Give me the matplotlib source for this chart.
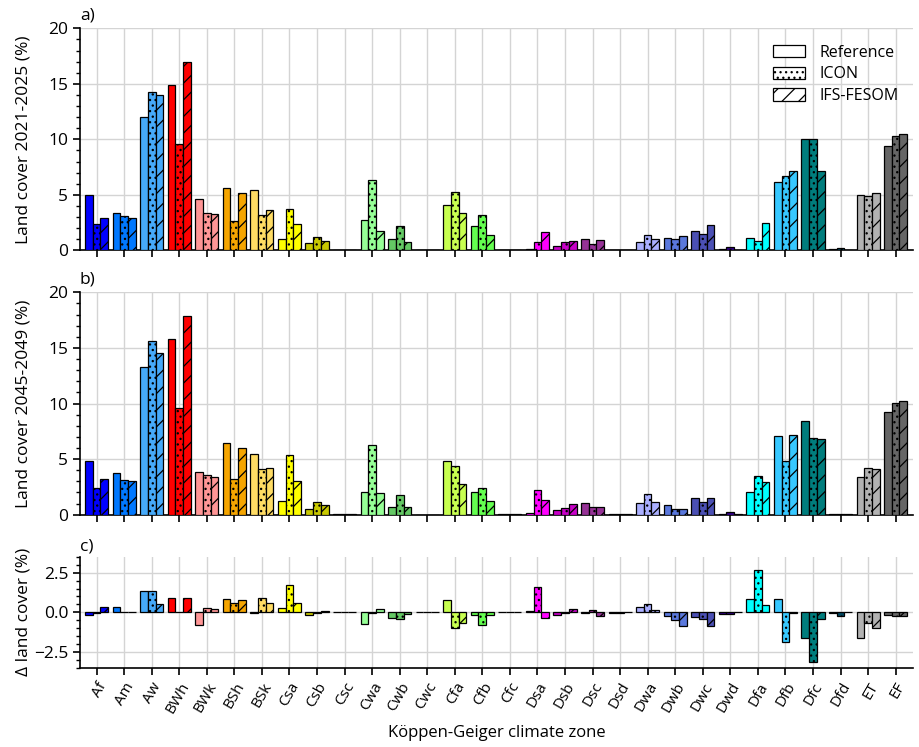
import matplotlib
matplotlib.use("Agg")
import matplotlib.pyplot as plt
import numpy as np
from matplotlib.ticker import MultipleLocator
from matplotlib.patches import Patch

plt.rcParams['font.family'] = ['Open Sans', 'DejaVu Sans']
plt.rcParams['hatch.linewidth'] = 0.9

zones = ["Af", "Am", "Aw", "BWh", "BWk", "BSh", "BSk", "Csa", "Csb", "Csc",
         "Cwa", "Cwb", "Cwc", "Cfa", "Cfb", "Cfc", "Dsa", "Dsb", "Dsc", "Dsd",
         "Dwa", "Dwb", "Dwc", "Dwd", "Dfa", "Dfb", "Dfc", "Dfd", "ET", "EF"]

zone_colors = ["#0000ff", "#0078ff", "#46aafa", "#ff0000", "#ff9696", "#f5a500",
               "#ffdc64", "#ffff00", "#c8c800", "#969600", "#96ff96", "#64c864",
               "#329632", "#c8ff50", "#64ff50", "#32c800", "#ff00ff", "#c800c8",
               "#963296", "#966496", "#aaafff", "#5a78dc", "#4b50b4", "#320087",
               "#00ffff", "#37c8ff", "#007d7d", "#00465f", "#b2b2b2", "#666666"]

# Panel a: land cover 2021-2025 (%)
ref_a = [5.0, 3.4, 12.0, 14.9, 4.6, 5.65, 5.4, 1.0, 0.63, 0.02,
         2.7, 1.02, 0.01, 4.05, 2.16, 0.05, 0.12, 0.36, 1.0, 0.03,
         0.72, 1.08, 1.74, 0.15, 1.14, 6.2, 10.0, 0.09, 4.95, 9.37]
icon_a = [2.4, 3.06, 14.3, 9.55, 3.33, 2.64, 3.18, 3.7, 1.17, 0.02,
          6.3, 2.16, 0.01, 5.29, 3.18, 0.08, 0.72, 0.72, 0.54, 0.03,
          1.35, 1.0, 1.5, 0.3, 0.84, 6.7, 10.0, 0.2, 4.86, 10.27]
ifs_a = [2.9, 2.9, 14.0, 17.0, 3.24, 5.14, 3.6, 2.34, 0.84, 0.02,
         1.77, 0.72, 0.01, 3.33, 1.35, 0.05, 1.62, 0.81, 0.9, 0.02,
         1.02, 1.29, 2.25, 0.02, 2.49, 7.18, 7.18, 0.02, 5.13, 10.45]

# Panel b: land cover 2045-2049 (%)
ref_b = [4.8, 3.72, 13.25, 15.8, 3.87, 6.48, 5.43, 1.26, 0.48, 0.02,
         2.0, 0.66, 0.01, 4.83, 2.0, 0.05, 0.18, 0.39, 1.02, 0.02,
         1.02, 0.84, 1.5, 0.05, 2.0, 7.05, 8.4, 0.02, 3.36, 9.2]
icon_b = [2.37, 3.09, 15.6, 9.63, 3.57, 3.2, 4.08, 5.37, 1.14, 0.02,
          6.27, 1.77, 0.01, 4.35, 2.37, 0.05, 2.25, 0.57, 0.72, 0.02,
          1.89, 0.48, 1.17, 0.2, 3.45, 4.8, 6.87, 0.02, 4.23, 10.04]
ifs_b = [3.18, 3.0, 14.5, 17.9, 3.36, 5.97, 4.17, 3.0, 0.87, 0.02,
         1.98, 0.66, 0.01, 2.73, 1.23, 0.05, 1.29, 0.96, 0.66, 0.02,
         1.11, 0.48, 1.47, 0.02, 2.9, 7.14, 6.78, 0.02, 4.14, 10.2]

# Panel c: change in land cover (%)
ref_c = [-0.17, 0.31, 1.34, 0.92, -0.78, 0.82, -0.03, 0.25, -0.19, 0.0,
         -0.73, -0.38, 0.0, 0.75, -0.19, 0.02, 0.06, -0.19, -0.03, -0.02,
         0.31, -0.25, -0.27, -0.1, 0.86, 0.82, -1.59, -0.03, -1.59, -0.19]
icon_c = [-0.05, 0.05, 1.34, 0.05, 0.25, 0.57, 0.88, 1.7, -0.05, 0.0,
          -0.03, -0.44, 0.0, -0.96, -0.82, 0.0, 1.57, -0.05, 0.13, -0.02,
          0.5, -0.5, -0.4, -0.1, 2.66, -1.89, -3.14, -0.23, -0.65, -0.25]
ifs_c = [0.31, 0.05, 0.52, 0.92, 0.19, 0.78, 0.57, 0.61, 0.06, 0.0,
         0.21, -0.1, 0.0, -0.65, -0.19, 0.0, -0.34, 0.19, -0.25, 0.0,
         0.13, -0.84, -0.84, 0.0, 0.44, -0.03, -0.44, 0.0, -1.0, -0.25]

series_names = ["Reference", "ICON", "IFS-FESOM"]
hatches = ["", "...", "//"]

fig = plt.figure(figsize=(9.2, 7.47), dpi=100)
W, H = 920.0, 747.0

def make_ax(top_px, bot_px):
    left = 80 / W
    right = 913 / W
    return fig.add_axes([left, 1 - bot_px / H, right - left, (bot_px - top_px) / H])

ax_a = make_ax(28.3, 250.4)
ax_b = make_ax(292.3, 514.7)
ax_c = make_ax(556.7, 668.0)

x = np.arange(len(zones))
bw = 0.28
grid_col = "#d4d4d4"

def draw(ax, datasets):
    for k, (vals, hatch) in enumerate(zip(datasets, hatches)):
        ax.bar(x + (k - 1) * bw, vals, width=bw, color=zone_colors,
               edgecolor="black", linewidth=0.9, hatch=hatch, zorder=3)
    ax.set_xlim(-0.6, 29.63)
    ax.set_xticks(x)
    ax.spines['top'].set_visible(False)
    ax.spines['right'].set_visible(False)
    ax.spines['left'].set_linewidth(1.2)
    ax.spines['bottom'].set_linewidth(1.2)
    ax.grid(True, which='major', color=grid_col, linewidth=1.0, zorder=0)
    ax.set_axisbelow(True)
    ax.tick_params(axis='both', which='major', direction='out', length=5,
                   width=1.2, labelsize=12.5)
    ax.tick_params(axis='y', which='minor', direction='out', length=3, width=1.0)

for ax, data in ((ax_a, (ref_a, icon_a, ifs_a)), (ax_b, (ref_b, icon_b, ifs_b))):
    draw(ax, data)
    ax.set_ylim(0, 20)
    ax.yaxis.set_major_locator(MultipleLocator(5))
    ax.yaxis.set_minor_locator(MultipleLocator(1))
    ax.set_xticklabels([])

draw(ax_c, (ref_c, icon_c, ifs_c))
ax_c.set_ylim(-3.5, 3.5)
ax_c.set_yticks([-2.5, 0.0, 2.5])
ax_c.set_yticklabels(["\u22122.5", "0.0", "2.5"])
ax_c.yaxis.set_minor_locator(MultipleLocator(0.5))
ax_c.set_xticklabels(zones, rotation=60, ha='right', rotation_mode='anchor', fontsize=11)

ax_a.set_ylabel("Land cover 2021-2025 (%)", fontsize=12.5)
ax_b.set_ylabel("Land cover 2045-2049 (%)", fontsize=12.5)
ax_c.set_ylabel("\u0394 land cover (%)", fontsize=12.5)
ax_c.set_xlabel("K\u00f6ppen-Geiger climate zone", fontsize=12, labelpad=6)
for ax in (ax_a, ax_b, ax_c):
    ax.yaxis.set_label_coords(-0.058, 0.5)

for ax, lab in ((ax_a, "a)"), (ax_b, "b)"), (ax_c, "c)")):
    ax.text(0.0, 1.02, lab, transform=ax.transAxes, ha='left', va='bottom', fontsize=12.5)

handles = [Patch(facecolor="white", edgecolor="black", linewidth=0.9, hatch=h)
           for h in hatches]
ax_a.legend(handles, series_names, loc='upper right', bbox_to_anchor=(1.0, 0.99),
            frameon=False, fontsize=11.5, handlelength=2.0, handleheight=0.8,
            labelspacing=0.35, handletextpad=0.9)

fig.savefig("out.png", dpi=100)
